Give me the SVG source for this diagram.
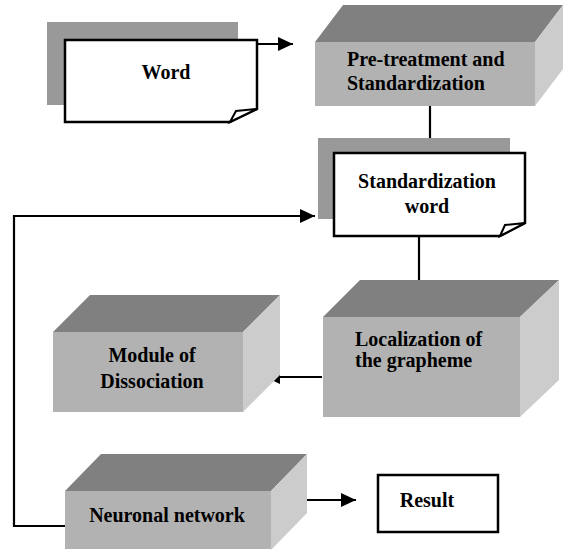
<svg xmlns="http://www.w3.org/2000/svg" width="567" height="550" viewBox="0 0 567 550">
<style>
.front{fill:#b2b2b2}
.top{fill:#808080}
.side{fill:#cccccc}
.shadow{fill:#999999}
.doc{fill:#ffffff;stroke:#000;stroke-width:2.5;stroke-linejoin:miter}
.fold{fill:#ffffff;stroke:#000;stroke-width:2}
.c{text-anchor:middle}
.conn{fill:none;stroke:#000;stroke-width:2.2}
</style>
<defs>
<marker id="arr" markerWidth="15" markerHeight="14" refX="15" refY="7" orient="auto" markerUnits="userSpaceOnUse">
<path d="M0,0 L15,7 L0,14 Z" fill="#000"/>
</marker>
</defs>
<rect width="567" height="550" fill="#fff"/>
<g id="connectors">
<line class="conn" x1="257" y1="44" x2="293" y2="44" marker-end="url(#arr)"/>
<line class="conn" x1="430" y1="106" x2="430" y2="138"/>
<line class="conn" x1="419" y1="236" x2="419" y2="307" marker-end="url(#arr)"/>
<line class="conn" x1="322" y1="377" x2="265" y2="377" marker-end="url(#arr)"/>
<polyline class="conn" points="65,526 14,526 14,216 315,216" marker-end="url(#arr)"/>
<line class="conn" x1="307" y1="500" x2="356" y2="500" marker-end="url(#arr)"/>
</g>
<g font-family="Liberation Serif, DejaVu Serif, serif" font-size="20" font-weight="bold" fill="#000">
<g id="word">
<rect class="shadow" x="47" y="22" width="191" height="83"/>
<path class="doc" d="M65,40 H257 V109 L230,122 H65 Z"/>
<path class="fold" d="M230,122 L236,111 L257,109 Z"/>
<text class="c" x="166" y="79">Word</text>
</g>
<g id="pretreatment">
<polygon class="top" points="315,42 343,5 563,5 535,42"/>
<polygon class="side" points="535,42 563,5 563,69 535,106"/>
<rect class="front" x="315" y="42" width="220" height="64"/>
<text x="347" y="66">Pre-treatment and</text>
<text x="347" y="90">Standardization</text>
</g>
<g id="standardization">
<rect class="shadow" x="318" y="138" width="192" height="81"/>
<path class="doc" d="M334,153 H525 V223 L500,236 H334 Z"/>
<path class="fold" d="M500,236 L505,225 L525,223 Z"/>
<text class="c" x="427" y="188">Standardization</text>
<text class="c" x="427" y="213">word</text>
</g>
<g id="localization">
<polygon class="top" points="323,317 360,280 559,280 520,317"/>
<polygon class="side" points="520,317 559,280 559,380 520,417"/>
<rect class="front" x="323" y="317" width="197" height="100"/>
<text x="355" y="346">Localization of</text>
<text x="355" y="367">the grapheme</text>
</g>
<g id="module">
<polygon class="top" points="53,332 90,295 280,295 243,332"/>
<polygon class="side" points="243,332 280,295 280,375 243,412"/>
<rect class="front" x="53" y="332" width="190" height="80"/>
<text class="c" x="152" y="362">Module of</text>
<text class="c" x="152" y="388">Dissociation</text>
</g>
<g id="neuronal">
<polygon class="top" points="65,491 101,454 307,454 271,491"/>
<polygon class="side" points="271,491 307,454 307,513 271,550"/>
<rect class="front" x="65" y="491" width="206" height="58"/>
<text class="c" x="167" y="522">Neuronal network</text>
</g>
<g id="result">
<rect x="378" y="475" width="120" height="57" fill="#fff" stroke="#000" stroke-width="2.5"/>
<text class="c" x="427" y="507">Result</text>
</g>
</g>
</svg>
